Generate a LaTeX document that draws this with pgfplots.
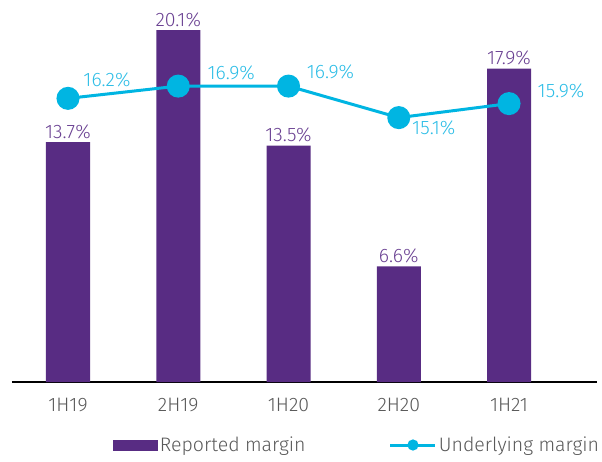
\documentclass[border=0pt]{standalone}
\usepackage{fontspec}
\setmainfont{Fira Sans Light}
\usepackage{pgfplots}
\pgfplotsset{compat=1.18}
\definecolor{barpurple}{HTML}{582C83}
\definecolor{barlabel}{HTML}{6A4192}
\definecolor{linecyan}{HTML}{00B5E2}
\definecolor{linelabel}{HTML}{2DBDE6}
\definecolor{ticklabel}{HTML}{595959}
\newcommand{\lblfont}{\fontsize{19.5bp}{22bp}\selectfont}
\begin{document}
\begin{tikzpicture}
\begin{axis}[
  scale only axis,
  width=585bp, height=381.7bp,
  xmin=-0.508, xmax=4.798,
  ymin=0, ymax=21.8,
  axis x line*=bottom,
  axis y line=none,
  x axis line style={-, line width=2bp, black},
  xtick={0,1,2,3,4},
  xticklabels={1H19,2H19,1H20,2H20,1H21},
  major tick length=0pt,
  xticklabel style={font=\lblfont, text=ticklabel, yshift=-13bp},
  clip=false,
  legend columns=2,
  legend style={draw=none, fill=none, inner sep=0pt, outer sep=0pt,
    at={(rel axis cs:0.1726,-0.165)}, anchor=west,
    font=\lblfont, text=ticklabel,
    /tikz/every even column/.append style={column sep=0bp}},
  legend cell align=left,
]
\addplot[ybar, bar width=44bp, fill=barpurple, draw=none,
  nodes near coords={\pgfmathprintnumber[fixed,precision=1,fixed zerofill,assume math mode=true]{\pgfplotspointmeta}\%},
  every node near coord/.append style={font=\lblfont, text=barlabel, inner sep=3bp},
  legend image code/.code={\fill[barpurple] (0bp,-5.5bp) rectangle (45bp,5.5bp);}]
  coordinates {(0,13.7) (1,20.1) (2,13.5) (3,6.6) (4,17.9)};
\addlegendentry{\makebox[227bp][l]{Reported margin}}
\addplot[color=linecyan, line width=3bp, mark=*, mark size=10bp, mark options={fill=linecyan, draw=none},
  legend image code/.code={\draw[linecyan, line width=3bp] (0bp,0bp) -- (45bp,0bp); \fill[linecyan] (22.5bp,0bp) circle (4bp);}]
  coordinates {(0,16.2) (1,16.9) (2,16.9) (3,15.1) (4,15.9)};
\addlegendentry{\makebox[150bp][l]{Underlying margin}}
\begin{scope}[every node/.style={font=\lblfont, text=linelabel}]
\node at ([xshift=39bp,yshift=18bp]axis cs:0,16.2) {16.2\%};
\node at ([xshift=53bp,yshift=13bp]axis cs:1,16.9) {16.9\%};
\node at ([xshift=42bp,yshift=14bp]axis cs:2,16.9) {16.9\%};
\node at ([xshift=35bp,yshift=-10bp]axis cs:3,15.1) {15.1\%};
\node at ([xshift=52bp,yshift=13bp]axis cs:4,15.9) {15.9\%};
\end{scope}
\path (rel axis cs:-0.0205,-0.207) rectangle (rel axis cs:1.0085,1.0008);
\end{axis}
\end{tikzpicture}
\end{document}
